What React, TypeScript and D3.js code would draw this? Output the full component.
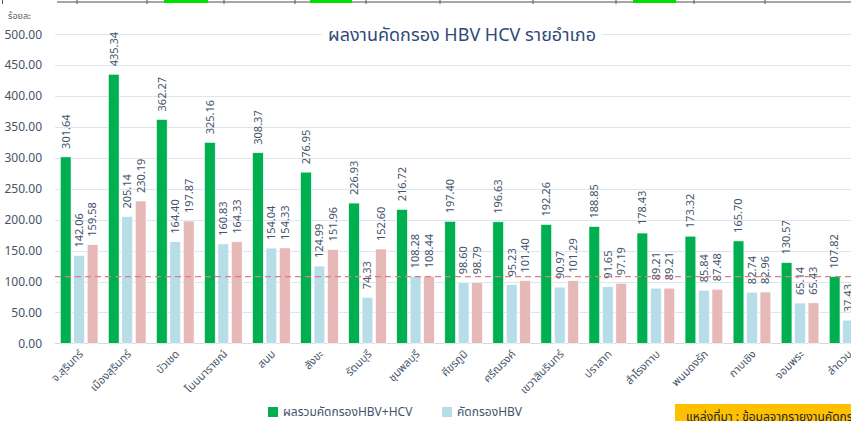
import { useRef, useEffect } from 'react';
import * as d3 from 'd3';

const W = 851;
const H = 421;
const FONT = '"Noto Sans", "Noto Sans Thai", Tahoma, sans-serif';

const districts = [
  'จ.สุรินทร์', 'เมืองสุรินทร์', 'บัวเชด', 'โนนนารายณ์', 'สนม', 'สังขะ', 'รัตนบุรี', 'ชุมพลบุรี',
  'ศีขรภูมิ', 'ศรีณรงค์', 'เขวาสินรินทร์', 'ปราสาท', 'สำโรงทาบ', 'พนมดงรัก', 'กาบเชิง', 'จอมพระ', 'ลำดวน',
];
const totalHbvHcv = [301.64, 435.34, 362.27, 325.16, 308.37, 276.95, 226.93, 216.72, 197.40, 196.63, 192.26, 188.85, 178.43, 173.32, 165.70, 130.57, 107.82];
const screenHbv = [142.06, 205.14, 164.40, 160.83, 154.04, 124.99, 74.33, 108.28, 98.60, 95.23, 90.97, 91.65, 89.21, 85.84, 82.74, 65.14, 37.43];
const screenHcv = [159.58, 230.19, 197.87, 164.33, 154.33, 151.96, 152.60, 108.44, 98.79, 101.40, 101.29, 97.19, 89.21, 87.48, 82.96, 65.43, 70.39];
const seriesNames = ['ผลรวมคัดกรองHBV+HCV', 'คัดกรองHBV', 'คัดกรองHCV'];
const seriesColors = ['#00b050', '#b7dde8', '#e6b9b8'];
const yTicks = [0, 50, 100, 150, 200, 250, 300, 350, 400, 450, 500];
const targetLine = 107.82;

// bits of the spreadsheet peeking in above the chart
const sheetTicks = [77, 147, 224, 295, 366, 440, 533, 616, 694, 765];
const sheetGreen = [[164, 208], [310, 352], [633, 676]];

export default function App() {
  const svgRef = useRef<SVGSVGElement>(null);

  useEffect(() => {
    const svg = d3.select(svgRef.current);
    svg.selectAll('*').remove();

    const step = 48.06;
    const x0 = 55.1;
    const y = d3.scaleLinear().domain([0, 500]).range([343.3, 34.3]);
    const x = d3.scaleBand<string>().domain(districts)
      .range([x0, x0 + step * districts.length]).padding(0);
    const xs = d3.scaleBand<number>().domain([0, 1, 2])
      .range([-18.85, 18.85]).paddingInner(0.2);

    svg.append('rect').attr('width', W).attr('height', H).attr('fill', '#fff');

    // sheet strip
    svg.append('line').attr('x1', 57).attr('x2', W).attr('y1', 2).attr('y2', 2)
      .attr('stroke', '#a6a6a6').attr('stroke-width', 2);
    sheetGreen.forEach(([a, b]) => {
      svg.append('rect').attr('x', a).attr('y', 0).attr('width', b - a).attr('height', 3)
        .attr('fill', '#00e000');
    });
    sheetTicks.forEach(t => {
      svg.append('line').attr('x1', t).attr('x2', t).attr('y1', 0).attr('y2', 4)
        .attr('stroke', '#555').attr('stroke-width', 1);
    });
    svg.append('line').attr('x1', 2.5).attr('x2', 2.5).attr('y1', 0).attr('y2', 4)
      .attr('stroke', '#555').attr('stroke-width', 1);

    // gridlines
    const g = svg.append('g');
    yTicks.forEach(t => {
      g.append('line').attr('x1', 55).attr('x2', W)
        .attr('y1', Math.round(y(t)) + 0.5).attr('y2', Math.round(y(t)) + 0.5)
        .attr('stroke', t === 0 ? '#d9d9d9' : '#dce6f2').attr('stroke-width', 1);
      g.append('text').attr('x', 42).attr('y', y(t)).attr('dy', '0.35em')
        .attr('text-anchor', 'end').attr('font-size', 12).attr('fill', '#44546a')
        .attr('font-family', FONT).text(t.toFixed(2));
    });

    svg.append('text').attr('x', 8).attr('y', 19).attr('font-size', 9)
      .attr('fill', '#595959').attr('font-family', FONT).text('ร้อยละ');

    // bars
    const allSeries = [totalHbvHcv, screenHbv, screenHcv];
    allSeries.forEach((vals, si) => {
      vals.forEach((v, i) => {
        const cx = x(districts[i])! + x.bandwidth() / 2;
        const bx = cx + xs(si)!;
        g.append('rect')
          .attr('x', bx).attr('y', y(v))
          .attr('width', xs.bandwidth()).attr('height', y(0) - y(v))
          .attr('fill', seriesColors[si])
          .attr('stroke', '#fff').attr('stroke-width', 0.6);
        const lx = bx + xs.bandwidth() / 2;
        const ly = y(v) - 8;
        g.append('text')
          .attr('transform', `translate(${lx},${ly}) rotate(-90)`)
          .attr('dy', '0.35em').attr('text-anchor', 'start')
          .attr('font-size', 11).attr('fill', '#44546a').attr('font-family', FONT)
          .text(v.toFixed(2));
      });
    });

    // target line
    g.append('line').attr('x1', 55).attr('x2', W)
      .attr('y1', y(targetLine)).attr('y2', y(targetLine))
      .attr('stroke', '#d9817e').attr('stroke-width', 1.3).attr('stroke-dasharray', '6,4');

    // x labels
    districts.forEach(dn => {
      const cx = x(dn)! + x.bandwidth() / 2;
      g.append('text')
        .attr('transform', `translate(${cx + 2},${352}) rotate(-45)`)
        .attr('text-anchor', 'end').attr('dy', '0.35em')
        .attr('font-size', 11).attr('fill', '#44546a').attr('font-family', FONT)
        .text(dn);
    });

    // title
    const title = svg.append('text').attr('x', 462).attr('y', 35).attr('dy', '0.35em')
      .attr('text-anchor', 'middle').attr('font-size', 18).attr('fill', '#2f4a7a')
      .attr('font-family', FONT).text('ผลงานคัดกรอง HBV HCV รายอำเภอ');
    const bb = (title.node() as SVGTextElement).getBBox();
    svg.insert('rect', () => title.node())
      .attr('x', bb.x - 6).attr('y', bb.y).attr('width', bb.width + 12).attr('height', bb.height)
      .attr('fill', '#fff');

    // legend
    const legendX = [268, 442];
    [0, 1].forEach(si => {
      svg.append('rect').attr('x', legendX[si]).attr('y', 407).attr('width', 10).attr('height', 10)
        .attr('fill', seriesColors[si]);
      svg.append('text').attr('x', legendX[si] + 15).attr('y', 416)
        .attr('font-size', 12).attr('fill', '#44546a').attr('font-family', FONT)
        .text(seriesNames[si]);
    });

    // source box
    svg.append('rect').attr('x', 675).attr('y', 404).attr('width', W - 675).attr('height', 20)
      .attr('fill', '#ffc000');
    svg.append('text').attr('x', 686).attr('y', 421).attr('font-size', 12)
      .attr('fill', '#262626').attr('font-family', FONT)
      .text('แหล่งที่มา : ข้อมูลจากรายงานคัดกรอง');
  }, []);

  return (
    <svg ref={svgRef} width={W} height={H}
      style={{ position: 'fixed', left: 0, top: 0, display: 'block' }} />
  );
}
